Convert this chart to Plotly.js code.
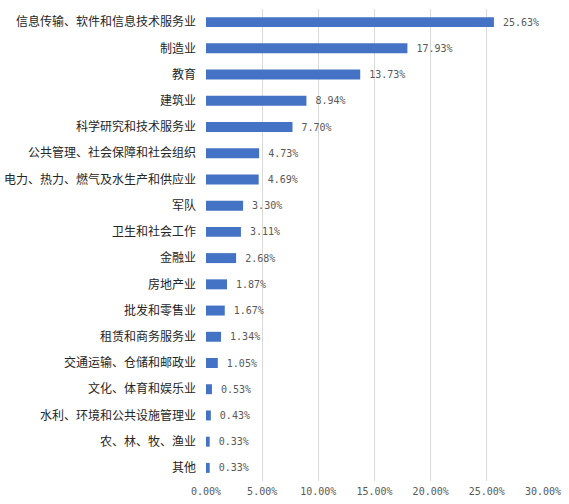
<!DOCTYPE html>
<html>
<head>
<meta charset="utf-8">
<script src="https://cdn.plot.ly/plotly-3.0.1.min.js"></script>
<style>
  html, body { margin: 0; padding: 0; background: #fff; }
  #chart { width: 569px; height: 504px; }
</style>
</head>
<body>
<div id="chart"></div>
<script>
// Industry names, top to bottom
const industries = [
  '信息传输、软件和信息技术服务业',
  '制造业',
  '教育',
  '建筑业',
  '科学研究和技术服务业',
  '公共管理、社会保障和社会组织',
  '电力、热力、燃气及水生产和供应业',
  '军队',
  '卫生和社会工作',
  '金融业',
  '房地产业',
  '批发和零售业',
  '租赁和商务服务业',
  '交通运输、仓储和邮政业',
  '文化、体育和娱乐业',
  '水利、环境和公共设施管理业',
  '农、林、牧、渔业',
  '其他'
];

// Share of each industry (%)
const shares = [25.63, 17.93, 13.73, 8.94, 7.70, 4.73, 4.69, 3.30, 3.11,
                2.68, 1.87, 1.67, 1.34, 1.05, 0.53, 0.43, 0.33, 0.33];

// x axis ticks
const xTicks = [0, 5, 10, 15, 20, 25, 30];
const xTickText = xTicks.map(v => v.toFixed(2) + '%');

const trace = {
  type: 'bar',
  orientation: 'h',
  x: shares,
  y: industries,
  marker: { color: '#4472C4' },
  // leading space = the gap Excel leaves between bar and label
  texttemplate: ' %{x:.2f}%',
  textposition: 'outside',
  constraintext: 'none',
  cliponaxis: false,
  textfont: { family: 'DejaVu Sans Mono', size: 10, color: '#595959' },
  hoverinfo: 'none'
};

const layout = {
  width: 569,
  height: 504,
  margin: { l: 206, r: 26, t: 9, b: 23 },
  paper_bgcolor: '#ffffff',
  plot_bgcolor: '#ffffff',
  showlegend: false,
  bargap: 0.62,
  xaxis: {
    range: [0, 30],
    tickvals: xTicks,
    ticktext: xTickText,
    showgrid: true,
    gridcolor: '#d9d9d9',
    zeroline: false,
    showline: false,
    ticks: '',
    ticklabelstandoff: 3,
    tickfont: { family: 'DejaVu Sans Mono', size: 10, color: '#595959' }
  },
  yaxis: {
    autorange: 'reversed',
    showgrid: false,
    zeroline: false,
    showline: false,
    ticks: '',
    ticklabelstandoff: 9,
    tickfont: { family: 'Noto Sans CJK SC', size: 12, color: '#262626' }
  }
};

Plotly.newPlot('chart', [trace], layout, { displayModeBar: false, staticPlot: true });
</script>
</body>
</html>
